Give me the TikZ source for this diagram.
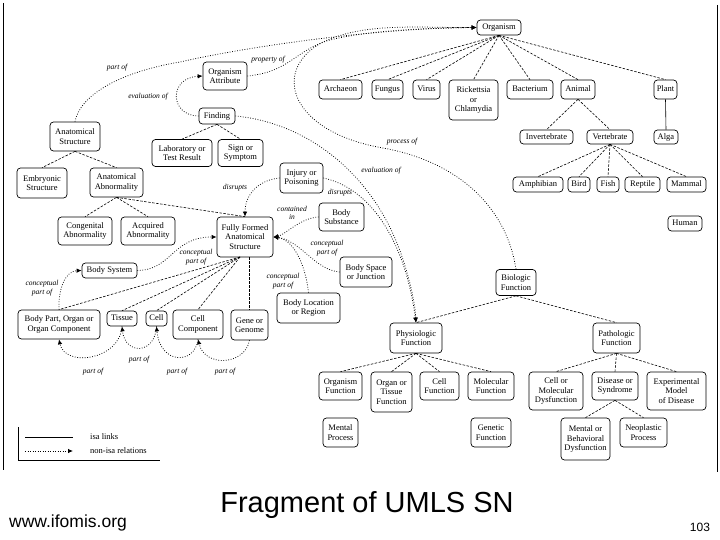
\documentclass[tikz,border=0pt]{standalone}
\usepackage{fontspec}
\setmainfont{Liberation Serif}
\newfontfamily\sansf{Liberation Sans}
\usetikzlibrary{arrows.meta,calc}
\begin{document}
\begin{tikzpicture}[x=1pt,y=-1pt,
  box/.style={draw, rounded corners=3.5pt, line width=0.7pt, align=center, inner sep=0pt, font=\fontsize{8.5}{9.5}\selectfont},
  one/.style={text height=6.3pt, text depth=1.9pt},
  isa/.style={line width=0.6pt, dash pattern=on 2.5pt off 1.5pt},
  isasolid/.style={line width=0.6pt},
  rel/.style={line width=0.75pt, dash pattern=on 0.8pt off 1.7pt, -{Latex[length=5pt,width=4.5pt]}},
  lbl/.style={font=\fontsize{7.5}{8.5}\selectfont\itshape, align=center, inner sep=0pt},
  frameline/.style={line width=0.6pt}
]
\useasboundingbox (0,0) rectangle (720,540);

% ---------- nodes ----------
\node[box,one,minimum width=44pt,minimum height=15pt] (organism) at (499,27.5) {Organism};
\node[box,minimum width=44pt,minimum height=28pt] (orgattr) at (225,76) {Organism\\Attribute};
\node[box,one,minimum width=36pt,minimum height=16pt] (finding) at (217,116) {Finding};
\node[box,minimum width=50pt,minimum height=29pt] (anatstr) at (75,136.5) {Anatomical\\Structure};
\node[box,minimum width=60pt,minimum height=27pt] (labres) at (182,153) {Laboratory or\\Test Result};
\node[box,minimum width=45pt,minimum height=27pt] (sign) at (240.5,153) {Sign or\\Symptom};
\node[box,minimum width=50pt,minimum height=30pt] (embryo) at (42,183) {Embryonic\\Structure};
\node[box,minimum width=53pt,minimum height=29pt] (anatab) at (116.5,182.5) {Anatomical\\Abnormality};
\node[box,minimum width=54pt,minimum height=28pt] (congab) at (85,231) {Congenital\\Abnormality};
\node[box,minimum width=54pt,minimum height=28pt] (acqab) at (148,231) {Acquired\\Abnormality};
\node[box,one,minimum width=55pt,minimum height=15pt] (bodysys) at (109.5,270.5) {Body System};
\node[box,minimum width=56pt,minimum height=40pt] (ffas) at (245,237) {Fully Formed\\Anatomical\\Structure};
\node[box,minimum width=43pt,minimum height=30pt] (injury) at (301.5,178) {Injury or\\Poisoning};
\node[box,minimum width=45pt,minimum height=28pt] (bsubst) at (341.5,217) {Body\\Substance};
\node[box,minimum width=52pt,minimum height=30pt] (bspace) at (366,272) {Body Space\\or Junction};
\node[box,minimum width=63pt,minimum height=30pt] (bloc) at (308.5,308) {Body Location\\or Region};
\node[box,minimum width=82pt,minimum height=29pt] (bodypart) at (59,324.5) {Body Part, Organ or\\Organ Component};
\node[box,one,minimum width=30pt,minimum height=15pt] (tissue) at (122,318.5) {Tissue};
\node[box,one,minimum width=21pt,minimum height=15pt] (cell) at (156.5,318.5) {Cell};
\node[box,minimum width=50pt,minimum height=29pt] (cellcomp) at (198,324.5) {Cell\\Component};
\node[box,minimum width=37pt,minimum height=30pt] (gene) at (249.5,325) {Gene or\\Genome};

\node[box,one,minimum width=43pt,minimum height=19pt] (archaeon) at (340.5,89.5) {Archaeon};
\node[box,one,minimum width=31pt,minimum height=19pt] (fungus) at (387.5,89.5) {Fungus};
\node[box,one,minimum width=27pt,minimum height=19pt] (virus) at (426.5,89.5) {Virus};
\node[box,minimum width=49pt,minimum height=40pt] (rick) at (473.5,100) {Rickettsia\\or\\Chlamydia};
\node[box,one,minimum width=46pt,minimum height=19pt] (bacterium) at (530,89.5) {Bacterium};
\node[box,one,minimum width=34pt,minimum height=19pt] (animal) at (578,89.5) {Animal};
\node[box,one,minimum width=23pt,minimum height=19pt] (plant) at (665.5,89.5) {Plant};
\node[box,one,minimum width=53pt,minimum height=14pt] (invert) at (546.5,137) {Invertebrate};
\node[box,one,minimum width=46pt,minimum height=14pt] (vert) at (610,137) {Vertebrate};
\node[box,one,minimum width=24pt,minimum height=14pt] (alga) at (666,137) {Alga};
\node[box,one,minimum width=50pt,minimum height=15pt] (amph) at (538,184.5) {Amphibian};
\node[box,one,minimum width=22pt,minimum height=15pt] (bird) at (579,184.5) {Bird};
\node[box,one,minimum width=22pt,minimum height=15pt] (fish) at (608,184.5) {Fish};
\node[box,one,minimum width=35pt,minimum height=15pt] (reptile) at (642.5,184.5) {Reptile};
\node[box,one,minimum width=39pt,minimum height=15pt] (mammal) at (686.5,184.5) {Mammal};
\node[box,one,minimum width=34pt,minimum height=15pt] (human) at (685,223.5) {Human};

\node[box,minimum width=40pt,minimum height=26pt] (biofunc) at (516,282.5) {Biologic\\Function};
\node[box,minimum width=52pt,minimum height=30pt] (physio) at (416,338) {Physiologic\\Function};
\node[box,minimum width=47pt,minimum height=30pt] (patho) at (616.5,338) {Pathologic\\Function};
\node[box,minimum width=43pt,minimum height=28pt] (orgfunc) at (340.5,386) {Organism\\Function};
\node[box,minimum width=41pt,minimum height=40pt] (otfunc) at (391.5,392) {Organ or\\Tissue\\Function};
\node[box,minimum width=39pt,minimum height=28pt] (cellfunc) at (439.5,386) {Cell\\Function};
\node[box,minimum width=46pt,minimum height=28pt] (molfunc) at (491,386) {Molecular\\Function};
\node[box,minimum width=35pt,minimum height=29pt] (mental) at (340.5,432.5) {Mental\\Process};
\node[box,minimum width=40pt,minimum height=29pt] (genetic) at (491,432.5) {Genetic\\Function};
\node[box,minimum width=54pt,minimum height=38pt] (cmdys) at (556,391) {Cell or\\Molecular\\Dysfunction};
\node[box,minimum width=46pt,minimum height=28pt] (disease) at (615,386) {Disease or\\Syndrome};
\node[box,minimum width=59pt,minimum height=38pt] (expmod) at (676.5,391) {Experimental\\Model\\of Disease};
\node[box,minimum width=49pt,minimum height=42pt] (mbdys) at (585.5,439) {Mental or\\Behavioral\\Dysfunction};
\node[box,minimum width=47pt,minimum height=29pt] (neo) at (643.5,432.5) {Neoplastic\\Process};

% ---------- isa links ----------
\foreach \c in {archaeon,fungus,virus,rick,bacterium,animal,plant}
  \draw[isa] (organism.south) -- (\c.north);
\draw[isa] (animal.south) -- (invert.north);
\draw[isa] (animal.south) -- (vert.north);
\draw[isasolid] (plant.south) -- (alga.north);
\foreach \c in {amph,bird,fish,reptile,mammal}
  \draw[isa] (vert.south) -- (\c.north);
\draw[isa] (finding.south) -- (labres.north);
\draw[isa] (finding.south) -- (sign.north);
\draw[isa] (anatstr.south) -- (embryo.north);
\draw[isa] (anatstr.south) -- (anatab.north);
\draw[isa] (anatab.south) -- (congab.north);
\draw[isa] (anatab.south) -- (acqab.north);
\draw[isa] (anatab.south) -- (ffas.north);
\coordinate (ffasfan) at (240,257);
\foreach \c in {bodypart,tissue,cell,cellcomp}
  \draw[isa] (ffasfan) -- (\c.north);
\draw[isa] (ffas.south -| gene.north) -- (gene.north);
\draw[isa] (biofunc.south) -- (physio.north);
\draw[isa] (biofunc.south) -- (patho.north);
\foreach \c in {orgfunc,otfunc,cellfunc,molfunc}
  \draw[isa] (physio.south) -- (\c.north);
\foreach \c in {cmdys,disease,expmod}
  \draw[isa] (patho.south) -- (\c.north);
\draw[isa] (disease.south) -- (mbdys.north);
\draw[isa] (disease.south) -- (neo.north);

% ---------- non-isa relations ----------
\draw[rel] (anatstr.north) .. controls (80,95) and (120,72) .. (180,62) .. controls (250,46) and (380,28) .. (organism.west);
\node[lbl] (lpartof) at (117,68) {part of};

\draw[rel] (orgattr.east) .. controls (290,72) and (295,50) .. (330,40) .. controls (370,30) and (430,28) .. (organism.west);
\node[lbl] (lprop) at (268,60) {property of};

\draw[rel] (biofunc.north) .. controls (505,200) and (450,160) .. (383,148) .. controls (290,132) and (270,70) .. (323,42) .. controls (365,22) and (420,28) .. (organism.west);
\node[lbl] (lproc) at (402,142) {process of};

\draw[rel] (finding.west) .. controls (170,116) and (168,78) .. (orgattr.west);
\node[lbl] (leval1) at (148,97) {evaluation of};

\draw[rel] (finding.east) .. controls (300,122) and (365,165) .. (397,243) .. controls (407,268) and (415,300) .. (physio.north);
\node[lbl] (leval2) at (381,171) {evaluation of};

\draw[rel] (injury.east) .. controls (370,188) and (405,240) .. (physio.north);
\node[lbl] (ldis2) at (340,193) {disrupts};

\draw[rel] (injury.west) .. controls (258,180) and (245,195) .. (ffas.north);
\node[lbl] (ldis1) at (235,188) {disrupts};

\draw[rel] (bsubst.west) .. controls (300,218) and (285,235) .. (ffas.east);
\node[lbl] (lcont) at (292,213) {contained\\in};

\draw[rel] (bspace.west) .. controls (315,270) and (300,240) .. (ffas.east);
\node[lbl] (lcp1) at (327,248) {conceptual\\part of};

\draw[rel] (bloc.north) .. controls (306,268) and (295,240) .. (ffas.east);
\node[lbl] (lcp2) at (283,281) {conceptual\\part of};

\draw[rel] (bodysys.east) .. controls (172,270) and (172,237) .. (ffas.west);
\node[lbl] (lcp3) at (196,257) {conceptual\\part of};

\draw[rel] (bodypart.north) .. controls (58,290) and (65,271) .. (bodysys.west);
\node[lbl] (lcp4) at (42,288) {conceptual\\part of};

\draw[rel] (tissue.south) .. controls (120,360) and (65,368) .. (bodypart.south);
\node[lbl] (lp1) at (93,372) {part of};
\draw[rel] (cell.south) .. controls (155,355) and (125,355) .. (tissue.south);
\node[lbl] (lp2) at (139,360) {part of};
\draw[rel] (cellcomp.south) .. controls (195,365) and (160,365) .. (cell.south);
\node[lbl] (lp3) at (177,372) {part of};
\draw[rel] (gene.south) .. controls (245,365) and (205,368) .. (cellcomp.south);
\node[lbl] (lp4) at (225,372) {part of};

% ---------- legend ----------
\coordinate (lgA) at (18,427);
\coordinate (lgB) at (18,460);
\coordinate (lgC) at (160,460);
\draw[frameline] (lgA) -- (lgB) -- (lgC);
\coordinate (l1a) at (25,437);
\coordinate (l1b) at (73,437);
\coordinate (l2a) at (25,451);
\coordinate (l2b) at (73,451);
\draw[isasolid] (l1a) -- (l1b);
\draw[rel] (l2a) -- (l2b);
\node[anchor=west, inner sep=0pt, font=\fontsize{8.5}{9}\selectfont] (lgisa) at (90,437) {isa links};
\node[anchor=west, inner sep=0pt, font=\fontsize{8.5}{9}\selectfont] (lgnon) at (90,451) {non-isa relations};

% ---------- frame ----------
\coordinate (fl1) at (3,3);
\coordinate (fl2) at (3,470);
\coordinate (fr1) at (717,5);
\coordinate (fr2) at (717,472);
\draw[frameline] (fl1) -- (fl2);
\draw[frameline] (fr1) -- (fr2);

% ---------- bottom texts ----------
\node[anchor=base, inner sep=0pt, font=\sansf\fontsize{17.5}{20}\selectfont] (url) at (68,527) {www.ifomis.org};
\node[anchor=base, inner sep=0pt, font=\sansf\fontsize{29}{32}\selectfont] (title) at (367,512) {Fragment of UMLS SN};
\node[anchor=base, inner sep=0pt, font=\sansf\fontsize{12}{14}\selectfont] (pnum) at (700,531) {103};
\end{tikzpicture}
\end{document}
